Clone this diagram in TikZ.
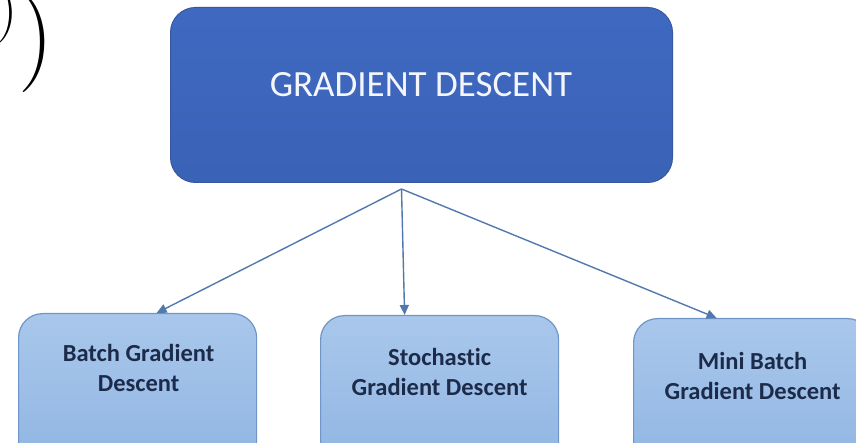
\documentclass[tikz,border=0pt]{standalone}
\usepackage{fontspec}
\newfontfamily\calibri[Ligatures=NoCommon]{Carlito}
\usetikzlibrary{arrows.meta,calc}
\definecolor{topfill}{HTML}{3F69C1}
\definecolor{topfilldark}{HTML}{3A62B6}
\definecolor{topborder}{HTML}{35589E}
\definecolor{boxtop}{HTML}{A9C7EB}
\definecolor{boxbot}{HTML}{8DB3E2}
\definecolor{boxborder}{HTML}{7095C8}
\definecolor{navytext}{HTML}{1C2B4A}
\definecolor{arrowcol}{HTML}{5279AE}
\tikzset{
  mainbox/.style={draw=topborder, line width=1pt, rounded corners=25pt,
    top color=topfill, bottom color=topfilldark, minimum width=502pt,
    minimum height=175pt, inner sep=0pt, anchor=north west},
  subbox/.style={draw=boxborder, line width=1.2pt, rounded corners=24pt,
    top color=boxtop, bottom color=boxbot, minimum width=238pt,
    minimum height=170pt, inner sep=0pt, anchor=north west},
  subtext/.style={text=navytext, align=center, inner sep=0pt, anchor=north,
    font=\calibri\bfseries\fontsize{24.5}{30}\selectfont},
  maintext/.style={text=white!94!topfill, inner sep=0pt, anchor=base,
    font=\calibri\fontsize{37}{44}\selectfont},
  conn/.style={draw=arrowcol, line width=1.4pt,
    -{Triangle[length=10pt,width=9pt]}},
  paren/.style={inner sep=0pt, anchor=base west, text=black}
}
\begin{document}
\begin{tikzpicture}[x=1pt,y=-1pt]
\useasboundingbox (0,0) rectangle (856,443);
\fill[white] (0,0) rectangle (856,443);
\clip (0,0) rectangle (856,443);
% parentheses fragment
\node[paren, font=\fontsize{60}{60}\selectfont] (p1) at (-4,29) {)};
\node[paren, font=\fontsize{100}{100}\selectfont] (p2) at (18,68) {)};
% top box
\node[mainbox] (gd) at (170,7) {};
\node[maintext] (gdt) at (421,97) {GRADIENT DESCENT};
% sub boxes
\node[subbox] (b1) at (18,313) {};
\node[subbox] (b2) at (320,315) {};
\node[subbox] (b3) at (633,318) {};
\node[subtext] (t1) at ($(b1.north)+(1,31)$) {Batch Gradient\\Descent};
\node[subtext] (t2) at ($(b2.north)+(0,33)$) {Stochastic\\Gradient Descent};
\node[subtext] (t3) at ($(b3.north)+(0,34)$) {Mini Batch\\Gradient Descent};
% connectors
\coordinate (src) at ($(gd.south)+(-20,6)$);
\draw[conn] (src) -- ([xshift=19pt]b1.north);
\draw[conn] (src) -- ([xshift=-35pt]b2.north);
\draw[conn] (src) -- ([xshift=-36pt]b3.north);
\end{tikzpicture}
\end{document}
